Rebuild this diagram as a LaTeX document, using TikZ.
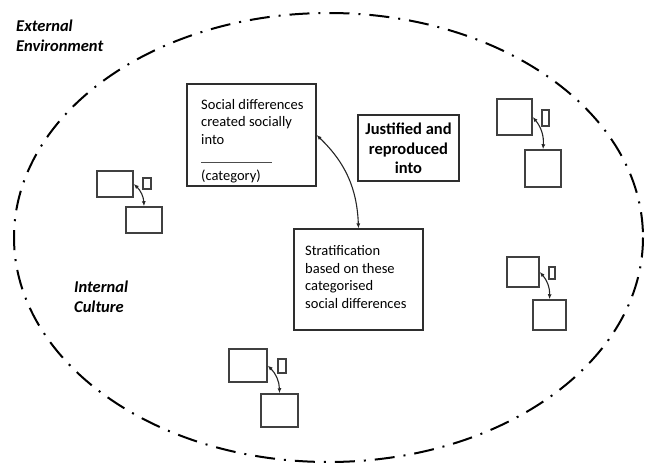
\documentclass[tikz,border=0pt]{standalone}
\usepackage{fontspec}
\setmainfont{Carlito}
\usetikzlibrary{arrows.meta}
\begin{document}
\begin{tikzpicture}[x=1pt,y=-1pt,
  box/.style={draw=black!82, line width=1.2pt, rectangle, inner sep=0pt},
  sbox/.style={draw=black!75, line width=1.5pt, rectangle, inner sep=0pt},
  txt/.style={align=left, inner sep=0pt, anchor=west, font=\fontsize{14.5}{17.4}\selectfont},
  bold/.style={align=center, inner sep=0pt, font=\fontsize{16.5}{19.5}\selectfont\bfseries},
  lbl/.style={align=left, inner sep=0pt, anchor=west, font=\fontsize{16.5}{20}\selectfont\bfseries\itshape},
  conn/.style={line width=1.1pt, black!85, {Latex[length=5pt,width=4pt]}-{Latex[length=5pt,width=4pt]}},
  env/.style={line width=2pt, dash pattern=on 20pt off 9pt on 2pt off 9pt},
]
\useasboundingbox (0,0) rectangle (650,465);
% environment boundary
\draw[env] (328.5,237.5) ellipse [x radius=314.5, y radius=224.5];
\node[lbl] (ext) at (16,36) {External\\Environment};
\node[lbl] (int) at (74,297) {Internal\\Culture};

% main boxes
\node[box, minimum width=129pt, minimum height=102pt] (b1) at (251.5,135) {};
\node[txt] (t1) at (201,122) {Social differences\\created socially\\into};
\coordinate (u1) at (201,162);
\coordinate (u2) at (272,162);
\draw[black!70, line width=0.6pt] (u1) -- (u2);
\node[txt] (t1c) at (201,176) {(category)};

\node[box, minimum width=101pt, minimum height=66pt] (b2) at (408.5,148) {};
\node[bold] (t2) at (408.5,148.5) {Justified and\\reproduced\\into};

\node[box, minimum width=129pt, minimum height=101pt] (b3) at (358.5,279.5) {};
\node[txt] (t3) at (305,277) {Stratification\\based on these\\categorised\\social differences};

\draw[conn] (b1.east) to[bend left=22] (b3.north);

% cluster 1 (top right)
\node[sbox, minimum width=35pt, minimum height=36pt] (a1) at (514.5,117) {};
\node[sbox, minimum width=7pt, minimum height=16pt] (s1) at (545.5,118) {};
\node[sbox, minimum width=36pt, minimum height=37pt] (c1) at (543,168.5) {};
\draw[conn] (a1.east) to[bend left=22] (c1.north);

% cluster 2 (left)
\node[sbox, minimum width=36pt, minimum height=26pt] (a2) at (115,184) {};
\node[sbox, minimum width=8pt, minimum height=11pt] (s2) at (147,183.5) {};
\node[sbox, minimum width=36pt, minimum height=26pt] (c2) at (144,220) {};
\draw[conn] (a2.east) to[bend left=22] (c2.north);

% cluster 3 (bottom)
\node[sbox, minimum width=38pt, minimum height=33pt] (a3) at (248,365.5) {};
\node[sbox, minimum width=8pt, minimum height=14pt] (s3) at (282,366) {};
\node[sbox, minimum width=37pt, minimum height=33pt] (c3) at (279.5,410.5) {};
\draw[conn] (a3.east) to[bend left=22] (c3.north);

% cluster 4 (right middle)
\node[sbox, minimum width=32pt, minimum height=30pt] (a4) at (523,272) {};
\node[sbox, minimum width=6pt, minimum height=12pt] (s4) at (552,273) {};
\node[sbox, minimum width=33pt, minimum height=30pt] (c4) at (549.5,315) {};
\draw[conn] (a4.east) to[bend left=22] (c4.north);
\end{tikzpicture}
\end{document}
